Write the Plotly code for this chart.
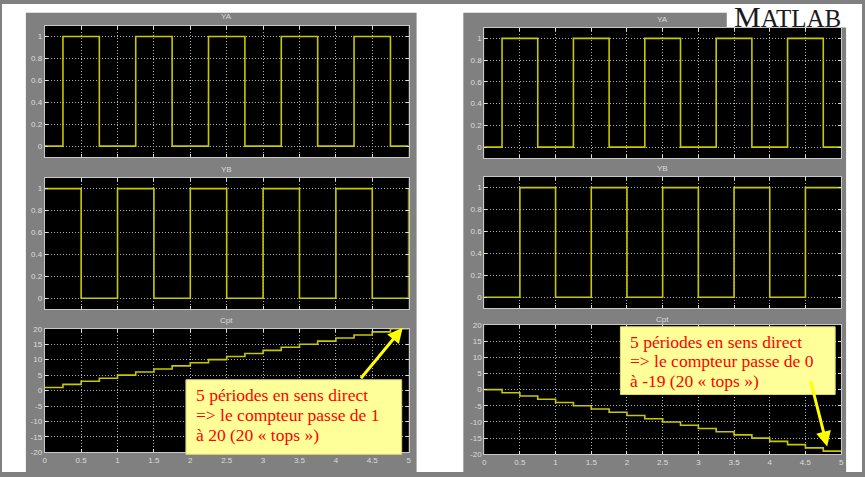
import plotly.graph_objects as go

W, H = 865, 477

# ---------------- data ----------------
t_ya = [0, 0.25, 0.75, 1.25, 1.75, 2.25, 2.75, 3.25, 3.75, 4.25, 4.75, 5]
ya_left = [0, 1, 0, 1, 0, 1, 0, 1, 0, 1, 0, 0]
ya_right = [0, 1, 0, 1, 0, 1, 0, 1, 0, 1, 0, 0]

t_yb = [0, 0.5, 1, 1.5, 2, 2.5, 3, 3.5, 4, 4.5, 5]
yb_left = [1, 0, 1, 0, 1, 0, 1, 0, 1, 0, 1]
yb_right = [0, 1, 0, 1, 0, 1, 0, 1, 0, 1, 1]

t_cpt = [0, 0.25, 0.5, 0.75, 1, 1.25, 1.5, 1.75, 2, 2.25, 2.5, 2.75,
         3, 3.25, 3.5, 3.75, 4, 4.25, 4.5, 4.75, 5]
cpt_left = [1, 2, 3, 4, 5, 6, 7, 8, 9, 10, 11, 12, 13, 14, 15, 16, 17, 18, 19, 20, 20]
cpt_right = [0, -1, -2, -3, -4, -5, -6, -7, -8, -9, -10, -11, -12, -13, -14, -15,
             -16, -17, -18, -19, -19]

x_ticks = [0, 0.5, 1, 1.5, 2, 2.5, 3, 3.5, 4, 4.5, 5]
x_ticklabels = ["0", "0.5", "1", "1.5", "2", "2.5", "3", "3.5", "4", "4.5", "5"]
bin_ticks = [0, 0.2, 0.4, 0.6, 0.8, 1]
bin_ticklabels = ["0", "0.2", "0.4", "0.6", "0.8", "1"]
cpt_ticks = [-20, -15, -10, -5, 0, 5, 10, 15, 20]
cpt_ticklabels = ["-20", "-15", "-10", "-5", "0", "5", "10", "15", "20"]

titles = ["YA", "YB", "Cpt"]
text_left = ["5 périodes en sens direct", "=> le compteur passe de 1", "à 20 (20 « tops »)"]
text_right = ["5 périodes en sens direct", "=> le compteur passe de 0", "à -19 (20 « tops »)"]

# ---------------- style ----------------
GRAY = "#808080"
LINE = "#c8c800"
TICKC = "#dcdcdc"
GRIDC = "#b0b0b0"
BORDER = "#c8c8c8"


def px(x):
    return x / W


def py(y):
    return 1 - y / H


# plot rectangles in pixels: (x0, x1, ytop, ybottom)
rects = [
    (43, 409, 22, 156), (43, 409, 177, 311), (43, 409, 331, 457),
    (485, 844, 24, 157), (485, 844, 176, 310), (485, 844, 327, 459),
]
title_y = [13, 169, 323, 16, 168, 322]

series = [
    (t_ya, ya_left), (t_yb, yb_left), (t_cpt, cpt_left),
    (t_ya, ya_right), (t_yb, yb_right), (t_cpt, cpt_right),
]

fig = go.Figure()
layout = dict(
    width=W, height=H, autosize=False,
    margin=dict(l=0, r=0, t=0, b=0),
    paper_bgcolor=GRAY, plot_bgcolor="black",
    showlegend=False,
)
annotations = []
shapes = []

for i, ((x0, x1, yt, yb), (tx, ty)) in enumerate(zip(rects, series)):
    n = i + 1
    xa = "x" if n == 1 else f"x{n}"
    yaname = "y" if n == 1 else f"y{n}"
    fig.add_trace(go.Scatter(x=tx, y=ty, mode="lines", line=dict(color=LINE, width=1.6, shape="hv"),
                             xaxis=xa, yaxis=yaname, hoverinfo="skip"))
    is_cpt = (i % 3 == 2)
    common = dict(showline=True, mirror="ticks", linecolor=BORDER, linewidth=1,
                  ticks="inside", ticklen=3, tickcolor=TICKC, tickwidth=1,
                  showgrid=True, gridcolor=GRIDC, griddash="1px,2px", gridwidth=1,
                  zeroline=False,
                  tickfont=dict(family="Liberation Sans", size=8, color=TICKC))
    layout["xaxis" if n == 1 else f"xaxis{n}"] = dict(
        domain=[px(x0), px(x1)], anchor=yaname, range=[0, 5],
        tickvals=x_ticks, ticktext=x_ticklabels, showticklabels=is_cpt, **common)
    if is_cpt:
        yr, tv, tt = [-20, 20], cpt_ticks, cpt_ticklabels
    else:
        yr, tv, tt = [-0.1, 1.1], bin_ticks, bin_ticklabels
    layout["yaxis" if n == 1 else f"yaxis{n}"] = dict(
        domain=[py(yb), py(yt)], anchor=xa, range=yr,
        tickvals=tv, ticktext=tt, **common)
    annotations.append(dict(
        x=px((x0 + x1) / 2), y=py(title_y[i]), xref="paper", yref="paper",
        text=titles[i % 3], showarrow=False, xanchor="center", yanchor="middle",
        font=dict(family="Liberation Sans", size=8, color=TICKC)))

# white page outside the two scope windows
for (a, b, c, d) in [(0, 24, 0, H), (417, 464, 0, H), (849, W, 0, H), (0, W, 0, 9), (729, W, 0, 24)]:
    shapes.append(dict(type="rect", xref="paper", yref="paper",
                       x0=px(a), x1=px(b), y0=py(d), y1=py(c),
                       fillcolor="white", line=dict(width=0), layer="below"))

# yellow note boxes
for (a, b, c, d) in [(185, 402, 383, 459), (622, 838, 329, 398)]:
    shapes.append(dict(type="rect", xref="paper", yref="paper",
                       x0=px(a), x1=px(b), y0=py(d), y1=py(c),
                       fillcolor="#ffff99", line=dict(color="#d8d870", width=1), layer="above"))

for k, line in enumerate(text_left):
    annotations.append(dict(x=px(194), y=py(399 + 20 * k), xref="paper", yref="paper",
                            text=line, showarrow=False, xanchor="left", yanchor="middle",
                            borderpad=0,
                            font=dict(family="Liberation Serif", size=17.5, color="#ff0000")))
for k, line in enumerate(text_right):
    annotations.append(dict(x=px(631), y=py(344 + 20 * k), xref="paper", yref="paper",
                            text=line, showarrow=False, xanchor="left", yanchor="middle",
                            borderpad=0,
                            font=dict(family="Liberation Serif", size=17.5, color="#ff0000")))

# arrows
annotations.append(dict(x=px(403), y=py(330), xref="paper", yref="paper", text="",
                        showarrow=True, arrowhead=2, arrowsize=1, arrowwidth=3,
                        arrowcolor="#ffff00", ax=-43, ay=52, axref="pixel", ayref="pixel"))
annotations.append(dict(x=px(830), y=py(451), xref="paper", yref="paper", text="",
                        showarrow=True, arrowhead=2, arrowsize=1, arrowwidth=3,
                        arrowcolor="#ffff00", ax=-17, ay=-67, axref="pixel", ayref="pixel"))

# MATLAB logo
annotations.append(dict(x=px(734), y=py(13), xref="paper", yref="paper",
                        text="M<span style='font-size:25px'>ATLAB</span>",
                        showarrow=False, xanchor="left", yanchor="middle",
                        font=dict(family="Liberation Serif", size=30, color="#1a1a1a")))

layout["annotations"] = annotations
layout["shapes"] = shapes
fig.update_layout(**layout)
fig.write_html("out.html", config={"displayModeBar": False, "staticPlot": True},
               post_script="document.body.style.margin='0';document.body.style.overflow='hidden';")
